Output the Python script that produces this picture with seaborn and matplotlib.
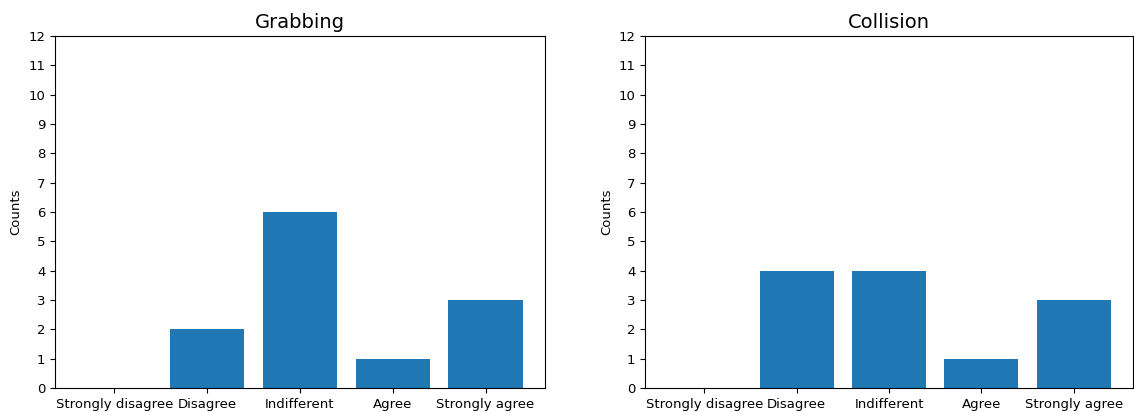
import seaborn as sns
import matplotlib.pyplot as plt
import pandas as pd

# Likert answers
answers = ["Strongly disagree", "Disagree", "Indifferent", "Agree", "Strongly agree"]
grabbing_counts = [0, 2, 6, 1, 3]
collision_counts = [0, 4, 4, 1, 3]
y_ticks = list(range(0, 13))

plt.rcParams["font.family"] = ["DejaVu Sans"]

fig = plt.figure(figsize=(11.34, 4.12), dpi=100)
ax1 = fig.add_axes([0.0485, 0.0583, 0.432, 0.854])
ax2 = fig.add_axes([0.569, 0.0583, 0.430, 0.854])

for ax, counts, title in [(ax1, grabbing_counts, "Grabbing"),
                          (ax2, collision_counts, "Collision")]:
    df = pd.DataFrame({"answer": answers, "count": counts})
    sns.barplot(data=df, x="answer", y="count", color="#1f77b4",
                saturation=1, width=0.8, ax=ax)
    # matplotlib-like 5% margins around the bars
    ax.set_xlim(-0.64, 4.64)
    ax.set_ylim(0, 12)
    ax.set_yticks(y_ticks)
    ax.set_xlabel("")
    ax.set_ylabel("Counts", fontsize=9.5)
    ax.set_title(title, fontsize=14)
    ax.tick_params(labelsize=9.5)

fig.savefig("out.png", dpi=100)
